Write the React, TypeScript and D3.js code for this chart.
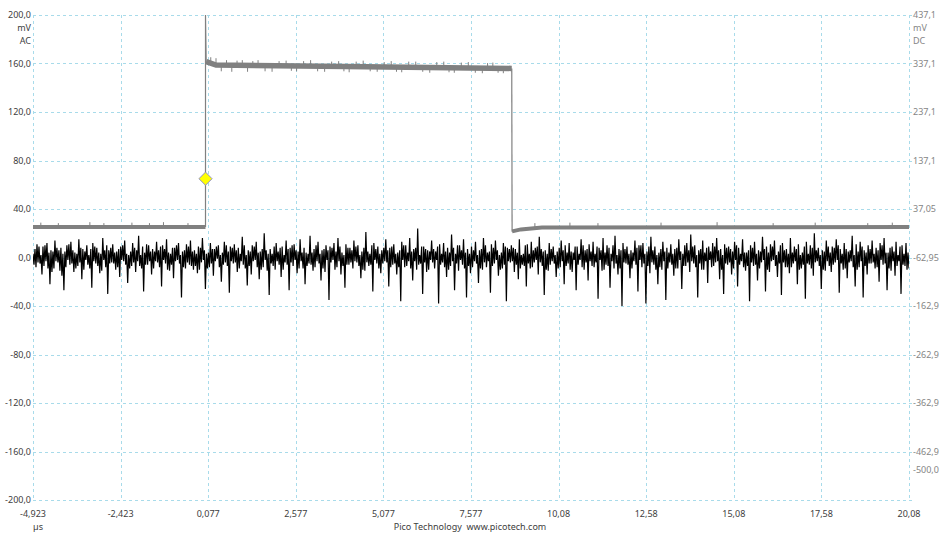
import * as d3 from "d3";
import React from "react";

// time axis (µs)
const xTicks = [-4.923, -2.423, 0.077, 2.577, 5.077, 7.577, 10.077, 12.577, 15.077, 17.577, 20.077];
const xTickLabels = ["-4,923", "-2,423", "0,077", "2,577", "5,077", "7,577", "10,08", "12,58", "15,08", "17,58", "20,08"];

// channel A (AC, left axis, mV)
const leftTicks = [200, 160, 120, 80, 40, 0, -40, -80, -120, -160, -200];

// channel B (DC, right axis, mV)
const rightTicks = [437.1, 337.1, 237.1, 137.1, 37.05, -62.95, -162.9, -262.9, -362.9, -462.9, -500.0];
const rightTickLabels = ["437,1", "337,1", "237,1", "137,1", "37,05", "-62,95", "-162,9", "-262,9", "-362,9", "-462,9", "-500,0"];

// channel A samples, evenly spaced across the window (mV)
const chanA = [
  3, -6, 7, -8, 11, -4, 9, -5, 2, -14, 9, -7, 10, -3, 12, -9, 4, -22, 6, -12, 5, -9, 14, -3, 8, -4, 6, -11, 8, -15, 3, -27, 5, -8, 10, -2, 11, -6, 13, -5,
  6, -12, 4, -9, 3, -7, 15, -4, 8, -18, 7, -10, 5, -2, 10, -6, 2, -9, 7, -25, 12, -3, 9, -5, 8, -7, 4, -13, 3, -11, 16, -2, 6, -8, 10, -30, 6, -5, 8, -4,
  11, -5, 4, -10, 5, -8, 7, -16, 9, -2, 10, -3, 14, -6, 3, -21, 2, -9, 5, -7, 12, -4, 8, -12, 6, -3, 18, -7, 2, -9, 9, -28, 4, -6, 11, -6, 10, -3, 5, -14,
  7, -9, 5, -3, 13, -4, 6, -8, 9, -24, 10, -2, 7, -5, 15, -10, 4, -11, 3, -6, 8, -17, 8, -3, 10, -2, 12, -5, 2, -33, 5, -8, 6, -9, 11, -4, 9, -6, 14, -7,
  5, -10, 6, -7, 3, -13, 9, -10, 8, -4, 16, -2, 6, -26, 3, -9, 4, -8, 12, -5, 7, -15, 7, -3, 9, -1, 10, -8, 2, -20, 4, -6, 13, -4, 10, -7, 5, -29, 9, -3,
  8, -5, 11, -4, 6, -12, 8, -9, 3, -3, 17, -6, 10, -9, 2, -23, 6, -7, 5, -14, 10, -3, 9, -2, 13, -8, 4, -18, 5, -10, 7, -8, 20, -2, 6, -11, 3, -31, 7, -5,
  3, -7, 9, -10, 12, -3, 5, -6, 8, -16, 9, -10, 2, -4, 14, -6, 7, -27, 8, -4, 10, -7, 11, -2, 6, -13, 5, -9, 15, -3, 4, -9, 8, -22, 4, -7, 3, -5, 18, -6,
  4, -11, 7, -8, 10, -3, 13, -5, 3, -19, 6, -9, 7, -12, 10, -2, 6, -35, 9, -4, 8, -2, 12, -10, 5, -8, 16, -3, 9, -14, 4, -7, 2, -25, 11, -6, 8, -6, 8, -4,
  6, -9, 14, -3, 9, -4, 10, -7, 2, -17, 5, -10, 8, -11, 21, -4, 5, -7, 3, -6, 10, -28, 12, -2, 7, -5, 9, -9, 3, -13, 6, -5, 8, -3, 15, -4, 6, -24, 8, -8,
  9, -6, 11, -5, 3, -14, 4, -8, 6, -36, 13, -2, 10, -8, 10, -7, 4, -3, 16, -9, 5, -19, 7, -3, 8, -10, 24, -6, 2, -5, 9, -30, 9, -4, 7, -12, 6, -10, 5, -2,
  14, -4, 7, -9, 5, -2, 9, -38, 11, -6, 3, -4, 12, -8, 5, -16, 8, -10, 4, -7, 19, -3, 8, -27, 3, -5, 10, -11, 10, -2, 6, -6, 15, -9, 4, -33, 7, -7, 3, -13,
  9, -8, 6, -3, 13, -5, 2, -21, 6, -9, 7, -10, 16, -4, 10, -8, 4, -3, 5, -29, 11, -7, 8, -5, 14, -2, 6, -15, 2, -10, 4, -9, 12, -6, 9, -36, 8, -3, 7, -4,
  10, -3, 8, -12, 7, -6, 4, -18, 15, -9, 2, -6, 3, -7, 10, -24, 11, -5, 3, -9, 13, -8, 6, -4, 8, -2, 9, -14, 17, -4, 7, -7, 5, -31, 6, -10, 3, -11, 12, -6,
  7, -3, 9, -5, 2, -16, 5, -9, 8, -8, 14, -3, 6, -22, 10, -7, 4, -5, 12, -10, 5, -12, 4, -2, 9, -27, 9, -6, 3, -2, 15, -8, 10, -10, 6, -4, 7, -19, 11, -3,
  5, -7, 13, -8, 3, -4, 9, -34, 8, -2, 6, -11, 16, -10, 4, -6, 10, -7, 8, -25, 3, -3, 10, -9, 18, -5, 2, -14, 7, -9, 6, -40, 12, -4, 7, -5, 9, -6, 3, -17,
  6, -9, 4, -3, 14, -6, 8, -28, 10, -2, 10, -8, 12, -5, 3, -38, 5, -7, 9, -13, 17, -4, 6, -6, 9, -10, 2, -22, 4, -8, 7, -10, 13, -3, 5, -35, 8, -9, 4, -4,
  11, -6, 3, -15, 7, -9, 8, -9, 15, -2, 5, -26, 3, -7, 10, -7, 12, -4, 6, -12, 19, -3, 9, -5, 10, -8, 2, -33, 6, -5, 7, -10, 14, -10, 4, -3, 8, -21, 9, -2,
  5, -8, 12, -7, 9, -4, 16, -3, 6, -18, 7, -10, 2, -30, 11, -5, 8, -6, 9, -4, 7, -14, 5, -9, 13, -2, 10, -24, 8, -6, 3, -3, 15, -8, 4, -11, 4, -7, 6, -36,
  10, -4, 8, -7, 13, -6, 3, -19, 6, -9, 5, -4, 17, -2, 7, -28, 9, -10, 4, -12, 11, -3, 9, -2, 14, -7, 2, -16, 5, -5, 10, -31, 12, -4, 6, -8, 7, -8, 3, -13,
  16, -8, 4, -5, 9, -3, 7, -22, 11, -10, 2, -9, 4, -6, 9, -34, 13, -5, 3, -6, 10, -9, 8, -15, 20, -4, 6, -3, 8, -7, 2, -26, 6, -10, 5, -11, 14, -3, 9, -7,
  4, -12, 9, -6, 8, -4, 15, -2, 10, -29, 7, -5, 3, -10, 12, -9, 7, -17, 5, -4, 6, -3, 18, -8, 2, -24, 11, -10, 5, -8, 13, -3, 9, -33, 6, -7, 4, -14, 10, -5,
  7, -5, 14, -4, 3, -9, 8, -8, 6, -20, 12, -2, 10, -6, 16, -5, 4, -27, 4, -9, 8, -11, 9, -3, 5, -15, 13, -7, 2, -3, 9, -30, 10, -6, 3, -7, 12, -10, 4, -9,
];

// channel B pulse breakpoints (µs, mV on right axis)
const bLowBefore: [number, number][] = [[-4.923, 0], [0.0, 0]];
const bEdgeUp: [number, number][] = [[0.0, 0], [0.0, 437.1], [0.02, 340]];
const bHigh: [number, number][] = [[0.02, 341], [0.3, 334], [4.0, 331], [8.74, 327]];
const bEdgeDown: [number, number][] = [[8.74, 327], [8.75, -10]];
const bLowAfter: [number, number][] = [[8.75, -9], [9.0, -5], [9.6, -1], [20.077, 0]];

// small glitches on channel B: [time µs, from mV, to mV]
const bSpikes: [number, number, number][] = [
  [-4.7, 0, 9], [-4.2, 0, 8], [-3.3, 0, 10], [-2.9, 0, 8], [-2.1, 0, 9], [-1.6, 0, 8], [-1.2, 0, 10], [-0.5, 0, 8],
  [0.15, 336, 350], [0.3, 334, 348], [0.45, 334, 321], [0.6, 333, 344], [0.75, 333, 320], [0.9, 333, 343],
  [1.05, 332, 344], [1.2, 332, 320], [1.35, 332, 342], [1.5, 332, 344], [1.7, 332, 321], [1.9, 332, 320],
  [2.1, 332, 342], [2.3, 332, 343], [2.45, 332, 322], [2.6, 332, 321], [2.8, 331, 342], [3.0, 331, 344],
  [3.2, 331, 321], [3.4, 331, 320], [3.6, 331, 341], [3.8, 331, 342], [3.95, 331, 321], [4.1, 331, 319],
  [4.3, 330, 341], [4.5, 330, 343], [4.7, 330, 321], [4.9, 330, 320], [5.1, 330, 340], [5.3, 330, 342],
  [5.45, 330, 320], [5.6, 330, 319], [5.8, 329, 341], [6.0, 329, 341], [6.2, 329, 320], [6.4, 329, 318],
  [6.6, 329, 340], [6.8, 329, 341], [6.95, 328, 319], [7.1, 328, 318], [7.3, 328, 339], [7.5, 328, 340],
  [7.7, 328, 318], [7.9, 328, 317], [8.05, 327, 338], [8.2, 327, 339], [8.35, 327, 318], [8.5, 327, 317],
  [9.4, 0, 8], [10.4, 0, 9], [11.2, 0, 8], [13.0, 0, 9], [14.6, 0, 10], [16.2, 0, 8], [17.4, 0, 9], [18.9, 0, 8], [19.6, 0, 9],
];

// trigger marker (µs, mV on left axis)
const trigger: [number, number] = [0.0, 65];

const W = 941;
const H = 533;
const left = 33;
const right = 909;
const top = 15;
const bottom = 500;
const font = "'Segoe UI', 'Noto Sans', 'DejaVu Sans', sans-serif";
const gridColor = "#a8dbea";

export default function App() {
  const x = d3.scaleLinear().domain([-4.923, 20.077]).range([left, right]);
  const xIdx = d3.scaleLinear().domain([0, chanA.length - 1]).range([left, right]);
  const yL = d3.scaleLinear().domain([-200, 200]).range([bottom, top]);
  const yR = d3.scaleLinear().domain([-562.9, 437.1]).range([bottom, top]);
  const fmt = (v: number) => d3.format(".1f")(v).replace(".", ",").replace("−", "-");

  const lineA = d3
    .line<number>()
    .x((_, i) => xIdx(i))
    .y((d) => yL(d));
  const lineB = d3
    .line<[number, number]>()
    .x((d) => x(d[0]))
    .y((d) => yR(d[1]));

  return (
    <svg
      width={W}
      height={H}
      style={{ position: "absolute", left: 0, top: 0, background: "#fff" }}
      fontFamily={font}
      fontSize={9}
    >
      <defs>
        <clipPath id="plot">
          <rect x={left} y={top} width={right - left} height={bottom - top} />
        </clipPath>
      </defs>

      {/* grid */}
      <g stroke={gridColor} strokeWidth={1} strokeDasharray="3,3" shapeRendering="crispEdges">
        {xTicks.map((t) => (
          <line key={"gx" + t} x1={Math.round(x(t)) + 0.5} x2={Math.round(x(t)) + 0.5} y1={top} y2={bottom} />
        ))}
        {leftTicks.map((t) => (
          <line key={"gy" + t} x1={left} x2={right + 3} y1={Math.round(yL(t)) + 0.5} y2={Math.round(yL(t)) + 0.5} />
        ))}
      </g>

      {/* left axis labels */}
      <g fill="#404040" textAnchor="end">
        {leftTicks.map((t) => (
          <text key={"ly" + t} x={left - 2} y={yL(t)} dy="0.35em">
            {fmt(t)}
          </text>
        ))}
        <text x={left - 2} y={yL(200) + 13} dy="0.35em">mV</text>
        <text x={left - 2} y={yL(200) + 26} dy="0.35em">AC</text>
      </g>

      {/* right axis labels */}
      <g fill="#858585" textAnchor="start">
        {rightTicks.map((t, i) => (
          <text key={"ry" + t} x={right + 4} y={yR(t)} dy="0.35em">
            {rightTickLabels[i]}
          </text>
        ))}
        <text x={right + 4} y={yR(437.1) + 13} dy="0.35em">mV</text>
        <text x={right + 4} y={yR(437.1) + 26} dy="0.35em">DC</text>
      </g>
      <line x1={right - 37} x2={right - 24} y1={yR(0)} y2={yR(0)} stroke="#8a8a8a" strokeWidth={1} />

      {/* bottom axis labels */}
      <g fill="#404040" textAnchor="middle">
        {xTicks.map((t, i) => (
          <text key={"lx" + t} x={x(t)} y={bottom + 17}>
            {xTickLabels[i]}
          </text>
        ))}
      </g>
      <text x={left + 5} y={bottom + 30} fill="#404040" textAnchor="middle">µs</text>
      <text x={470} y={bottom + 30} fill="#404040" textAnchor="middle">
        Pico Technology{"\u00a0\u00a0"}www.picotech.com
      </text>

      <g clipPath="url(#plot)">
        {/* channel B */}
        <g fill="none" stroke="#808080">
          <path d={lineB(bLowBefore) ?? ""} strokeWidth={4} />
          <path d={lineB(bHigh) ?? ""} strokeWidth={5.5} />
          <path d={lineB(bLowAfter) ?? ""} strokeWidth={4} />
          <path d={lineB(bEdgeUp) ?? ""} strokeWidth={1.2} />
          <path d={lineB(bEdgeDown) ?? ""} strokeWidth={1.2} />
          {bSpikes.map((s, i) => (
            <line key={"bs" + i} x1={x(s[0])} x2={x(s[0])} y1={yR(s[1])} y2={yR(s[2])} strokeWidth={1} />
          ))}
        </g>

        {/* channel A */}
        <path d={lineA(chanA) ?? ""} fill="none" stroke="#000" strokeWidth={1.2} strokeLinejoin="bevel" />

        {/* trigger marker */}
        <path
          d={d3.symbol(d3.symbolDiamond2, 110)() ?? ""}
          transform={`translate(${x(trigger[0])},${yL(trigger[1])})`}
          fill="#ffff00"
          stroke="#8f8fc8"
          strokeWidth={1}
        />
      </g>
    </svg>
  );
}
